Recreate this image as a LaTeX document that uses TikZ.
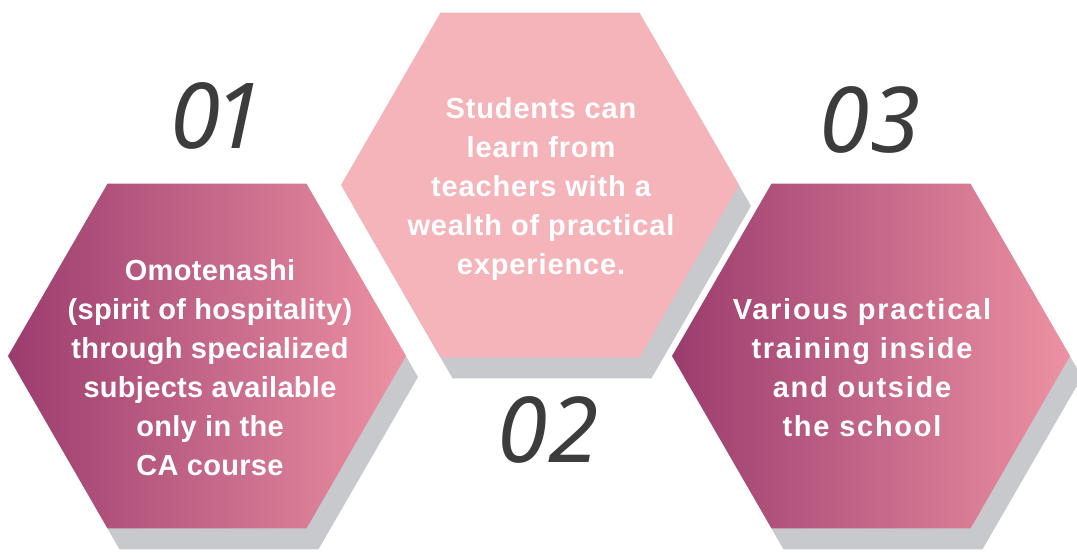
\documentclass[tikz,border=0pt]{standalone}
\usepackage{fontspec}
\setmainfont{Liberation Sans}
\newfontfamily\numfont{Noto Sans}
\definecolor{hexdark}{RGB}{155,60,110}
\definecolor{hexlight}{RGB}{237,145,163}
\definecolor{hexmid}{RGB}{244,180,186}
\definecolor{shadowgray}{RGB}{200,201,204}
\definecolor{numgray}{RGB}{60,60,60}
\newcommand\hexat[1]{(#1) ++(0:199) -- ++(120:199) -- ++(180:199) -- ++(240:199) -- ++(300:199) -- ++(0:199) -- cycle}
\begin{document}
\begin{tikzpicture}[x=1pt,y=-1pt,
  hexshadow/.style={fill=shadowgray},
  hexgrad/.style={left color=hexdark, right color=hexlight},
  hexplain/.style={fill=hexmid},
  body/.style={text=white, inner sep=0pt, align=center, font=\fontsize{29}{39}\selectfont\bfseries\addfontfeatures{LetterSpace=#1}},
  num/.style={text=numgray, inner sep=0pt, font=\numfont\itshape\fontsize{91}{91}\selectfont}]
\useasboundingbox (0,0) rectangle (1077,553);
\coordinate (M) at (540,185);
\coordinate (Ms) at (552,206);
\coordinate (L) at (207,356);
\coordinate (Ls) at (219,377);
\coordinate (R) at (871,356);
\coordinate (Rs) at (883,377);
% middle hexagon
\path[hexshadow] \hexat{Ms};
\path[hexplain] \hexat{M};
% left hexagon
\path[hexshadow] \hexat{Ls};
\path[hexgrad] \hexat{L};
% right hexagon
\path[hexshadow] \hexat{Rs};
\path[hexgrad] \hexat{R};
% texts
\node[body=1] (tl) at (210,368) {Omotenashi\\(spirit of hospitality)\\through specialized\\subjects available\\only in the\\CA course};
\node[body=3] (tm) at (541,189) {Students can\\learn from\\teachers with a\\wealth of practical\\experience.};
\node[body=6] (tr) at (862,368) {Various practical\\training inside\\and outside\\the school};
% numbers
\node[num] (n1) at (217,116) {0\kern-7pt 1};
\node[num] (n2) at (548,430) {02};
\node[num] (n3) at (870,120) {03};
\end{tikzpicture}
\end{document}
